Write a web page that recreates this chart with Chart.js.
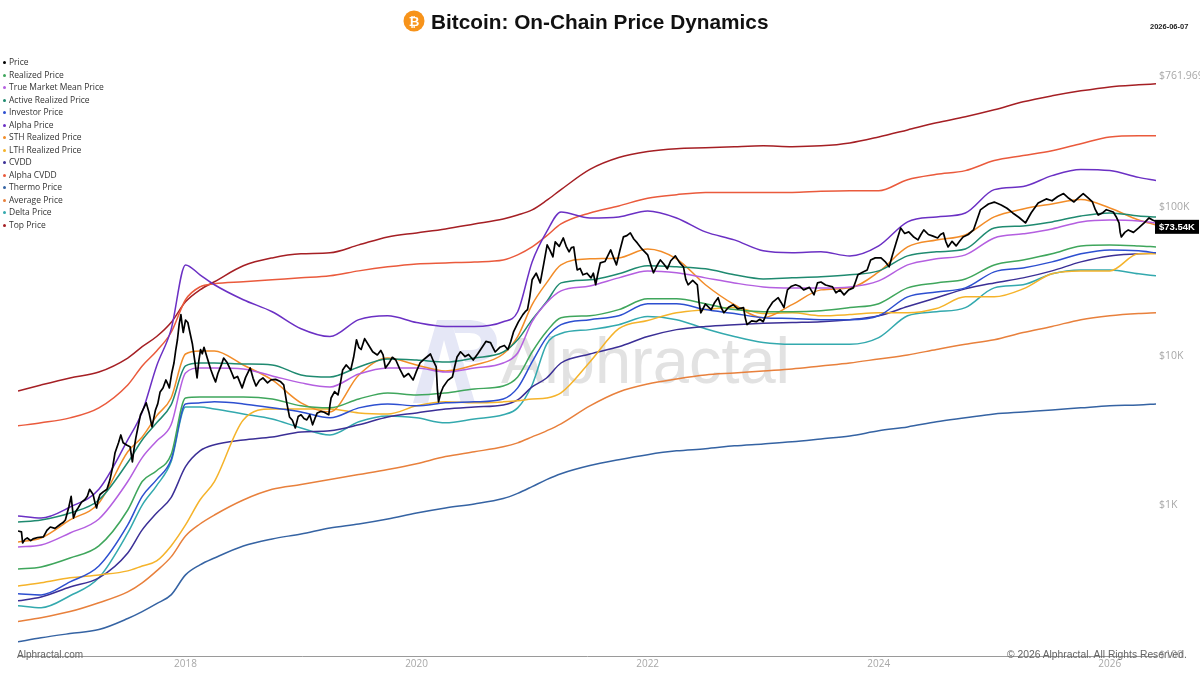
<!DOCTYPE html>
<html><head><meta charset="utf-8">
<script src="https://cdn.jsdelivr.net/npm/chart.js@4"></script>
<style>
html,body{margin:0;padding:0;background:#fff;width:1200px;height:675px;overflow:hidden;font-family:"Liberation Sans",Arial,sans-serif}
canvas{position:absolute;left:0;top:0}
.abs{position:absolute;white-space:nowrap}
#legend div{position:absolute;left:9px;font:8.5px/12px "Open Sans",sans-serif;color:#333;white-space:nowrap}
#legend i{position:absolute;left:-6px;top:5px;width:3px;height:3px;border-radius:50%}
</style></head><body>
<svg class="abs" style="left:405px;top:310px" width="100" height="100" viewBox="0 0 100 100">
<path d="M8 93 L32 10 L46 10 L70 93 L56 93 L39 30 L23 93 Z M46 10 L62 10 C82 10 92 20 92 32 C92 44 82 52 68 52 L60 52 L56 40 L66 40 C74 40 76 36 76 31 C76 26 72 23 64 23 L50 23 Z" fill="#e5e7f6"/>
</svg>
<div class="abs" style="left:501px;top:323px;font:65px/75px 'Liberation Sans',sans-serif;color:#e2e2e2">Alphractal</div>
<canvas id="c" width="1200" height="675"></canvas>
<svg class="abs" style="left:403px;top:10px" width="22" height="22" viewBox="0 0 22 22"><circle cx="11" cy="11" r="10.5" fill="#f7931a"/><text x="11" y="15.5" text-anchor="middle" font-family="Liberation Sans" font-weight="bold" font-size="13" fill="#fff">₿</text></svg>
<div class="abs" style="left:431px;top:9px;font:bold 20.8px/26px 'Liberation Sans',sans-serif;color:#111">Bitcoin: On-Chain Price Dynamics</div>
<div class="abs" style="left:1150px;top:22px;font:bold 7.5px/9px 'Liberation Sans',sans-serif;color:#222">2026-06-07</div>
<div id="legend"></div>
<div class="abs" style="left:17px;top:648px;font:10px/13px 'Liberation Sans',sans-serif;color:#666">Alphractal.com</div>
<div class="abs" style="left:1007px;top:648px;font:10.3px/13px 'Liberation Sans',sans-serif;color:#666">© 2026 Alphractal. All Rights Reserved.</div>
<script>
const dates=[2016.55,2016.75,2017,2017.25,2017.5,2017.625,2017.75,2017.875,2018,2018.125,2018.25,2018.5,2018.75,2019,2019.25,2019.5,2019.75,2020,2020.25,2020.5,2020.75,2020.875,2021,2021.125,2021.25,2021.5,2021.75,2022,2022.25,2022.5,2022.75,2023,2023.25,2023.5,2023.75,2024,2024.25,2024.5,2024.75,2025,2025.25,2025.5,2025.75,2026,2026.25,2026.40];
const realized=[342,353,405,488,850,1320,1560,2000,4800,4880,4880,4880,4730,4250,4120,4730,5190,5030,5190,5520,5780,6640,9770,13400,16600,17100,18800,22200,22200,20600,18800,18200,18200,18500,19400,20600,26300,28400,30200,37500,40500,44500,50300,51100,50300,49500];
const trueMarketMean=[480,495,596,740,1320,1910,2470,3170,7060,7630,7630,7510,6750,6060,5690,6950,7630,7630,7170,7630,8240,9620,15600,20900,25100,27100,30700,34200,33200,30700,28400,26700,26300,26300,26700,29300,37500,41200,43800,56900,60600,65400,72900,75100,74000,71700];
const activeRealized=[706,729,811,992,1770,2510,3270,4310,7870,8240,8240,8110,7990,6850,6640,7750,8770,8630,8370,8900,9770,11800,16100,21200,28400,29800,32700,37000,36400,35300,32200,30200,30700,31200,32200,34200,43100,45900,48000,66400,68500,72900,79900,83700,79900,78700];
const investor=[233,229,280,358,675,1050,1360,1850,4380,4450,4520,4380,4120,3870,3530,4120,4380,4250,4450,4520,4730,5610,8370,12200,14900,16100,17100,20600,20600,18800,17700,16600,16400,16100,16100,17100,22900,24700,26300,33700,35800,39300,44500,47300,46600,45200];
const alphaPrice=[775,751,890,1170,2510,3870,7870,13800,37500,32200,27600,21900,18200,14000,12400,16100,17100,15400,14500,14500,15600,18200,39300,62500,85000,77500,78700,86300,77500,62500,55200,46600,45200,45900,43100,50300,72900,78700,83700,120000,126000,149000,164000,161000,145000,138000];
const sthRealized=[519,552,729,947,2090,2630,3640,4800,9470,9920,9920,7990,6340,4450,3870,6850,8900,7990,7290,7990,9470,12400,20300,28400,37500,41200,41800,48000,41200,27600,20300,16600,20300,25500,26300,33700,49500,55200,59600,78700,89000,96200,103000,90400,75100,69500];
const lthRealized=[263,276,298,312,332,358,387,488,675,992,1320,3420,4050,4050,4050,3810,3750,4250,4520,4450,4520,4590,4730,4800,5190,8370,14000,15900,17900,18800,19400,17700,17900,17100,17400,17900,17900,19100,22900,22900,25900,32700,34200,34200,44500,44500];
const cvdd=[209,222,259,298,438,625,811,1030,1660,2120,2330,2510,2630,2840,2890,3170,3580,3810,4050,4180,4310,4660,5690,6540,8240,9470,10600,12400,13800,14500,14900,15200,15400,15600,16100,17100,19700,22600,25900,28400,30700,34200,39300,43100,44500,45200];
const alphaCvdd=[3120,3270,3530,4120,5870,7870,9920,13200,21900,26700,28000,28900,29800,30700,31700,34200,36400,38100,38700,39300,40500,43800,49500,58700,70600,83700,93300,105000,111000,115000,115000,115000,115000,117000,118000,118000,140000,152000,161000,188000,203000,219000,244000,271000,276000,276000];
const thermo=[111,118,126,134,159,177,200,229,312,364,405,488,544,587,644,685,740,811,877,933,1015,1100,1220,1360,1490,1690,1850,2000,2120,2190,2290,2360,2440,2550,2670,2890,3070,3320,3530,3750,3870,3990,4120,4250,4310,4380];
const averagePrice=[152,161,177,203,240,276,332,412,569,685,787,992,1170,1260,1360,1470,1590,1740,1940,2090,2260,2400,2630,2890,3220,4250,5270,5960,6440,6850,7060,7290,7510,7870,8240,8770,9330,10150,11000,11800,13200,14500,16100,17100,17700,17900];
const deltaPrice=[194,188,226,298,596,918,1240,1790,4180,4180,4050,3750,3470,3020,2710,3320,3640,3530,3270,3470,3700,4120,5870,11000,13000,13800,14900,16900,16100,14000,12400,11300,11000,11000,11000,12200,17100,18200,19400,26300,27600,32700,34700,34700,32700,31700];
const topPrice=[5350,5870,6540,7170,8900,10600,12400,15400,21200,25500,28900,37000,41800,44500,45200,51100,57800,61500,65400,70600,76300,81100,87700,101500,120000,164000,197000,216000,226000,229000,233000,236000,233000,236000,247000,271000,302000,337000,370000,412000,466000,511000,552000,587000,606000,615000];
const priceDates=[
2016.55,2016.58,2016.59,2016.61,2016.63,2016.66,2016.68,2016.72,2016.77,2016.80,2016.83,2016.87,2016.92,2016.94,2016.96,2016.99,
2017.01,2017.03,2017.05,2017.07,2017.10,2017.13,2017.15,2017.17,2017.20,2017.215,2017.23,2017.245,2017.26,2017.29,2017.32,2017.345,2017.37,2017.39,2017.42,2017.44,2017.46,2017.49,2017.52,2017.54,2017.555,2017.57,2017.59,2017.61,2017.635,2017.66,2017.685,2017.71,2017.725,2017.74,2017.76,2017.78,2017.805,2017.83,2017.845,2017.86,2017.88,2017.90,2017.915,2017.93,2017.945,2017.96,2017.97,2017.98,
2018.0,2018.02,2018.04,2018.06,2018.08,2018.10,2018.115,2018.13,2018.145,2018.16,2018.19,2018.22,2018.24,2018.26,2018.28,2018.31,2018.33,2018.36,2018.39,2018.42,2018.45,2018.49,2018.52,2018.56,2018.585,2018.61,2018.64,2018.67,2018.71,2018.74,2018.78,2018.82,2018.85,2018.875,2018.90,2018.925,2018.95,2018.975,
2019.0,2019.025,2019.05,2019.075,2019.10,2019.12,2019.14,2019.17,2019.20,2019.24,2019.25,2019.26,2019.29,2019.32,2019.34,2019.36,2019.39,2019.43,2019.455,2019.48,2019.50,2019.52,2019.55,2019.58,2019.62,2019.66,2019.69,2019.71,2019.73,2019.76,2019.79,2019.82,2019.855,2019.89,2019.93,2019.97,
2020.0,2020.03,2020.07,2020.12,2020.145,2020.17,2020.18,2020.19,2020.21,2020.23,2020.27,2020.31,2020.33,2020.35,2020.38,2020.42,2020.45,2020.49,2020.53,2020.57,2020.60,2020.64,2020.66,2020.68,2020.72,2020.76,2020.79,2020.815,2020.84,2020.88,2020.92,2020.94,2020.96,2020.98,
2021.0,2021.035,2021.07,2021.10,2021.13,2021.155,2021.18,2021.19,2021.20,2021.235,2021.27,2021.295,2021.32,2021.34,2021.36,2021.375,2021.39,2021.415,2021.44,2021.475,2021.51,2021.53,2021.55,2021.57,2021.59,2021.63,2021.68,2021.705,2021.73,2021.76,2021.79,2021.82,2021.85,2021.88,2021.91,2021.95,
2022.0,2022.025,2022.05,2022.08,2022.11,2022.14,2022.17,2022.20,2022.24,2022.275,2022.31,2022.33,2022.35,2022.39,2022.43,2022.445,2022.46,2022.50,2022.55,2022.58,2022.61,2022.635,2022.66,2022.70,2022.74,2022.78,2022.83,2022.845,2022.86,2022.90,2022.94,2022.97,
2023.0,2023.02,2023.04,2023.08,2023.13,2023.155,2023.18,2023.195,2023.21,2023.245,2023.28,2023.315,2023.35,2023.40,2023.44,2023.455,2023.47,2023.50,2023.54,2023.60,2023.63,2023.665,2023.70,2023.74,2023.78,2023.80,2023.82,2023.86,2023.90,2023.915,2023.93,2023.97,
2024.02,2024.055,2024.09,2024.12,2024.15,2024.17,2024.19,2024.225,2024.26,2024.30,2024.34,2024.365,2024.39,2024.43,2024.47,2024.51,2024.535,2024.56,2024.58,2024.60,2024.635,2024.67,2024.70,2024.73,2024.775,2024.82,2024.85,2024.88,2024.915,2024.95,
2025.0,2025.06,2025.11,2025.16,2025.215,2025.27,2025.32,2025.38,2025.45,2025.50,2025.55,2025.60,2025.645,2025.69,2025.73,2025.77,2025.81,2025.85,2025.875,2025.90,2025.94,2025.97,
2026.03,2026.055,2026.08,2026.09,2026.10,2026.13,2026.16,2026.205,2026.25,2026.30,2026.34,2026.37,2026.40];
const priceValues=[
615,606,511,540,552,530,544,556,561,620,654,640,685,700,729,890,
1050,751,830,877,960,1000,1050,1170,1080,960,877,1000,1080,1130,1170,1350,1660,2060,2400,2710,2400,2320,2260,1790,2200,2590,3100,3700,4050,4450,3800,3070,3500,3990,4400,5270,5600,6340,6000,5610,7000,8240,10000,11800,15000,17400,15000,13200,
16000,15400,13000,11000,8500,6540,8500,10150,9500,10500,8800,7400,6700,6150,7000,8000,8900,8300,7400,6500,6700,5610,6600,7630,6500,5780,6300,6540,6060,6350,6400,6200,5870,4500,3580,3400,3020,3600,
3700,3500,3420,3700,3170,3500,3810,3900,3850,3700,4300,4800,5300,5030,6000,7400,8000,7400,9000,11800,10500,10150,12000,11000,9800,9330,10000,9330,7630,8200,9000,8630,7500,6640,7000,6340,
7300,8240,8800,9470,8500,7750,5500,4520,5200,5690,6300,6640,7800,9040,9800,9100,9400,8630,9500,10600,11500,11300,10500,9770,10500,10800,10150,11500,13400,15500,17400,18200,18800,23000,
29800,33000,28400,38000,51100,47000,42500,48000,53500,50000,56900,50000,45900,49000,49500,41000,34700,35500,32200,33000,30700,33000,27600,33000,38700,39500,47300,42000,37500,47000,57800,59000,61500,56000,52700,48000,
43800,38000,33200,37000,40500,38000,35300,40000,43100,39000,36400,30000,27600,29500,27600,21000,17900,20500,18800,21000,22600,19500,17900,19500,20300,19000,19400,16500,14900,15800,15600,16200,
15600,17000,18800,21000,22600,21000,19400,22500,25500,27000,27600,27000,25500,26500,23600,26000,28400,28800,27500,26700,24400,25500,23600,25500,26300,29000,32200,33500,34700,37500,40500,41800,
41800,39500,36400,44000,52700,59000,66400,61000,62500,58000,55200,60000,64400,60000,58500,56900,60000,61500,54000,49500,54000,50300,54000,57800,60000,64400,75000,87700,92000,96200,
99000,94700,90000,83700,78000,71700,84000,97700,104000,101000,108000,113000,105000,99200,106000,113000,106000,99200,88000,81100,84000,88000,
85000,79000,71700,62000,57800,62000,64400,62000,66400,72000,77500,75000,73540];
const seriesNames=["Price","Realized Price","True Market Mean Price","Active Realized Price","Investor Price","Alpha Price","STH Realized Price","LTH Realized Price","CVDD","Alpha CVDD","Thermo Price","Average Price","Delta Price","Top Price"];
const seriesColors=["#000000","#3fa65c","#b45fe0","#1f8a70","#2d4fd0","#6b30c4","#f28c28","#f5b32a","#3b2f96","#ea5a3c","#3563a3","#e8803c","#33a9ae","#a51f24"];
const seriesData=[null,realized,trueMarketMean,activeRealized,investor,alphaPrice,sthRealized,lthRealized,cvdd,alphaCvdd,thermo,averagePrice,deltaPrice,topPrice];
const yTicks=[761969,100000,10000,1000,100];
const yLabels=["$761.969K","$100K","$10K","$1K","$100"];
const xTicks=[2018,2020,2022,2024,2026];

const legendEl=document.getElementById('legend');
seriesNames.forEach((n,i)=>{const d=document.createElement('div');d.style.top=(56+i*12.5)+'px';d.innerHTML='<i style="background:'+seriesColors[i]+'"></i>'+n;legendEl.appendChild(d);});

const datasets=seriesNames.map((n,i)=>{
  const isPrice=i===0;
  const xs=isPrice?priceDates:dates, ys=isPrice?priceValues:seriesData[i];
  return {label:n,data:xs.map((x,k)=>({x:x,y:ys[k]})),borderColor:seriesColors[i],borderWidth:isPrice?1.7:1.5,pointRadius:0,
    cubicInterpolationMode:isPrice?'default':'monotone',tension:0,borderJoinStyle:'round'};
});
const lastLabel={id:'lastLabel',afterDatasetsDraw(ch){
  const c=ch.ctx,last=priceValues[priceValues.length-1],y=ch.scales.y.getPixelForValue(last)+5.5;
  c.save();c.fillStyle='#000';c.fillRect(1155,y-7,44,14);
  c.fillStyle='#fff';c.font='bold 9.5px "Liberation Sans"';c.textBaseline='middle';c.textAlign='center';
  c.fillText('$'+(last/1000).toFixed(2)+'K',1177,y+0.5);c.restore();
}};
new Chart(document.getElementById('c'),{type:'line',data:{datasets},plugins:[lastLabel],options:{
  responsive:false,animation:false,devicePixelRatio:1,parsing:{xAxisKey:'x',yAxisKey:'y'},
  layout:{padding:{left:18,top:70,right:0,bottom:0}},
  plugins:{legend:{display:false},tooltip:{enabled:false},title:{display:false}},
  scales:{
    x:{type:'linear',min:2016.55,max:2026.40,grid:{display:false,drawTicks:false},border:{display:true,color:'#9a9a9a',width:1},
      afterBuildTicks(s){s.ticks=xTicks.map(v=>({value:v}));},
      afterFit(s){s.height=19;},
      ticks:{autoSkip:false,maxRotation:0,padding:2,color:'#a8a8a8',font:{size:10,family:'"Open Sans"'},callback:v=>String(v)}},
    y:{type:'logarithmic',position:'right',min:89.1,max:761969,grid:{display:false,drawTicks:false},border:{display:false},
      afterBuildTicks(s){s.ticks=yTicks.map(v=>({value:v}));},
      afterFit(s){s.width=44;},
      ticks:{autoSkip:false,padding:3,labelOffset:6,color:'#a8a8a8',font:{size:10.5,family:'"Open Sans"'},
        callback:v=>yLabels[yTicks.indexOf(v)]}}
  }
}});
</script>
</body></html>
